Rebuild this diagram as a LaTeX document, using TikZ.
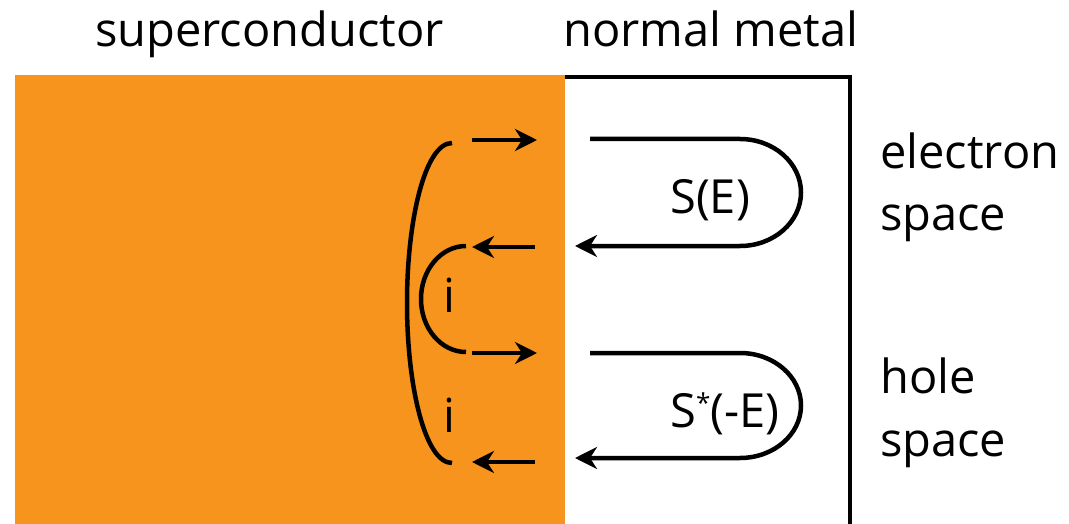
\documentclass[tikz,border=0pt]{standalone}
\usepackage{fontspec}
\setmainfont{Open Sans}
\usetikzlibrary{arrows.meta}
\definecolor{scorange}{RGB}{247,148,30}
\newcommand{\smallstar}{\raisebox{15pt}{\fontsize{26}{26}\selectfont *}}
\begin{document}
\begin{tikzpicture}[x=1pt,y=-1pt,
  lbl/.style={font=\fontsize{47}{52}\selectfont, inner sep=0pt, anchor=base west},
  wire/.style={line width=4.5pt},
  arr/.style={line width=4.5pt, -{Stealth[length=22pt,width=22pt,inset=7pt]}}]
\useasboundingbox (0,0) rectangle (1069,524);
% regions
\fill[scorange] (15,75) rectangle (565,524);
\draw[line width=4.5pt] (565,77) -- (850,77) -- (850,524);
% labels
\node[lbl] (sc) at (95,47) {superconductor};
\node[lbl] (nm) at (563,47) {normal metal};
\node[lbl] (el) at (880,168) {electron};
\node[lbl] (es) at (880,230) {space};
\node[lbl] (ho) at (880,393) {hole};
\node[lbl] (hs) at (880,456) {space};
\node[lbl] (se) at (670,213) {S(E)};
\node[lbl] (sme) at (670,427) {S\smallstar(-E)};
\node[lbl,anchor=base] (i1) at (449,312) {i};
\node[lbl,anchor=base] (i2) at (449,432) {i};
% coordinates
\coordinate (a1s) at (472,140); \coordinate (a1e) at (537,140);
\coordinate (a2s) at (535,247); \coordinate (a2e) at (472,247);
\coordinate (a3s) at (472,353); \coordinate (a3e) at (537,353);
\coordinate (a4s) at (535,462); \coordinate (a4e) at (472,462);
\coordinate (l1s) at (590,139); \coordinate (l1e) at (575,246);
\coordinate (l2s) at (590,353); \coordinate (l2e) at (575,458);
\coordinate (bt) at (452,143); \coordinate (bb) at (452,463);
\coordinate (st) at (466,246); \coordinate (sb) at (466,352);
% Andreev arrows
\draw[arr] (a1s) -- (a1e);
\draw[arr] (a2s) -- (a2e);
\draw[arr] (a3s) -- (a3e);
\draw[arr] (a4s) -- (a4e);
% left arcs
\draw[wire] (bt) .. controls (425,143) and (407,220) .. (407,303)
            .. controls (407,386) and (425,463) .. (bb);
\draw[wire] (st) .. controls (441.1,246) and (421,269.7) .. (421,299)
            .. controls (421,328.3) and (441.1,352) .. (sb);
% scattering loops
\draw[arr] (l1s) -- (740,139) .. controls (773.7,139) and (801,163) .. (801,192.5)
  .. controls (801,222) and (773.7,246) .. (740,246) -- (l1e);
\draw[arr] (l2s) -- (740,353) .. controls (773.7,353) and (801,376.5) .. (801,405.5)
  .. controls (801,434.5) and (773.7,458) .. (740,458) -- (l2e);
\end{tikzpicture}
\end{document}
